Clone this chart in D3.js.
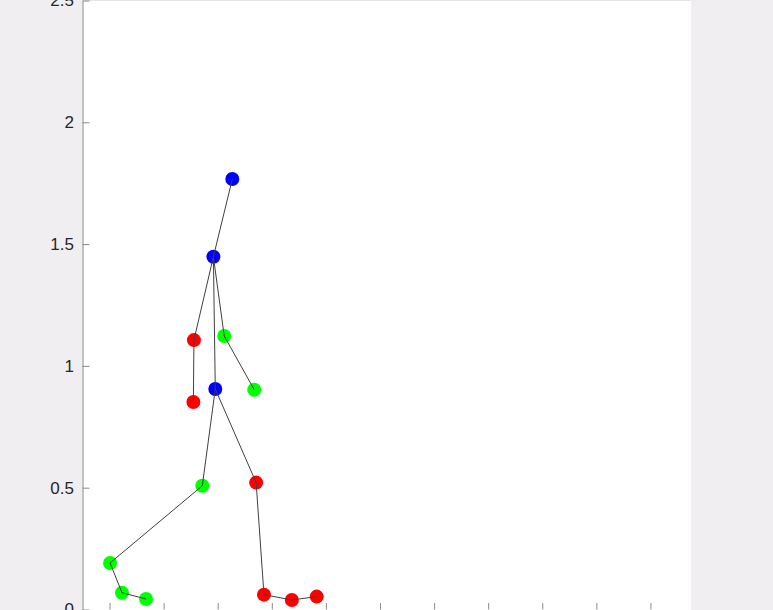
<!DOCTYPE html>
<html><head><meta charset="utf-8">
<script src="https://cdn.jsdelivr.net/npm/d3@7"></script>
<style>
html,body{margin:0;padding:0;background:#f0eef0;}
svg{display:block;}
</style></head>
<body>
<svg id="chart" width="773" height="610"></svg>
<script>
// Joint names, coordinates and colours
const joints = ["head","neck","pelvis","armA1","armA2","armB1","armB2","kneeG","ankleG","toeG1","toeG2","kneeR","ankleR","toeR1","toeR2"];
const jointX = [-0.546,-0.616,-0.609,-0.688,-0.690,-0.576,-0.465,-0.657,-0.998,-0.954,-0.865,-0.458,-0.429,-0.326,-0.234];
const jointY = [1.767,1.448,0.905,1.106,0.852,1.123,0.902,0.508,0.191,0.069,0.043,0.521,0.061,0.039,0.053];
const jointColor = ["#0000ff","#0000ff","#0000ff","#ff0000","#ff0000","#00ff00","#00ff00","#00ff00","#00ff00","#00ff00","#00ff00","#ff0000","#ff0000","#ff0000","#ff0000"];
// Bone connections (indices into joints)
const boneFrom = [0,1,3,1,5,1,2,7,8,9,2,11,12,13];
const boneTo   = [1,3,4,5,6,2,7,8,9,10,11,12,13,14];
const yTicks = [0,0.5,1,1.5,2,2.5];
const xTicks = [-1,-0.8,-0.6,-0.4,-0.2,0,0.2,0.4,0.6,0.8,1];

const svg = d3.select("#chart");
const mLeft = 82.5, mRight = 691, mTop = 0.5, mBottom = 609.5;
const x = d3.scaleLinear().domain([-1.1, 1.15]).range([mLeft, mRight]);
const y = d3.scaleLinear().domain([0, 2.5]).range([mBottom, mTop]);

svg.append("rect").attr("x", mLeft).attr("y", 0).attr("width", mRight-mLeft).attr("height", 610).attr("fill", "#ffffff");
svg.append("line").attr("x1", mLeft).attr("x2", mRight).attr("y1", 0.5).attr("y2", 0.5).attr("stroke", "#e4e4e4");

const yAxis = d3.axisLeft(y).tickValues(yTicks).tickSizeInner(-7).tickSizeOuter(0).tickPadding(8.5)
  .tickFormat(d => d3.format("")(d));
const ga = svg.append("g").attr("transform", `translate(${mLeft},0)`).call(yAxis);
ga.select(".domain").attr("stroke", "#8a8a8a");
ga.selectAll(".tick line").attr("stroke", "#8a8a8a");
ga.selectAll(".tick text").attr("fill", "#262626").style("font-family", "'Liberation Sans', Arial, sans-serif").style("font-size", "17px");

const xAxis = d3.axisBottom(x).tickValues(xTicks).tickSizeInner(-6.5).tickSizeOuter(0).tickFormat("");
const gx = svg.append("g").attr("transform", `translate(0,${mBottom})`).call(xAxis);
gx.select(".domain").remove();
gx.selectAll(".tick line").attr("stroke", "#8a8a8a");

const pts = joints.map((n,i) => ({n, x: jointX[i], y: jointY[i], c: jointColor[i]}));
svg.append("g").selectAll("circle").data(pts).join("circle")
  .attr("cx", d => x(d.x)).attr("cy", d => y(d.y)).attr("r", 7).attr("fill", d => d.c);

const bones = boneFrom.map((f,i) => [pts[f], pts[boneTo[i]]]);
svg.append("g").selectAll("line").data(bones).join("line")
  .attr("x1", d => x(d[0].x)).attr("y1", d => y(d[0].y))
  .attr("x2", d => x(d[1].x)).attr("y2", d => y(d[1].y))
  .attr("stroke", "#404040").attr("stroke-width", 1);
</script>
</body></html>
